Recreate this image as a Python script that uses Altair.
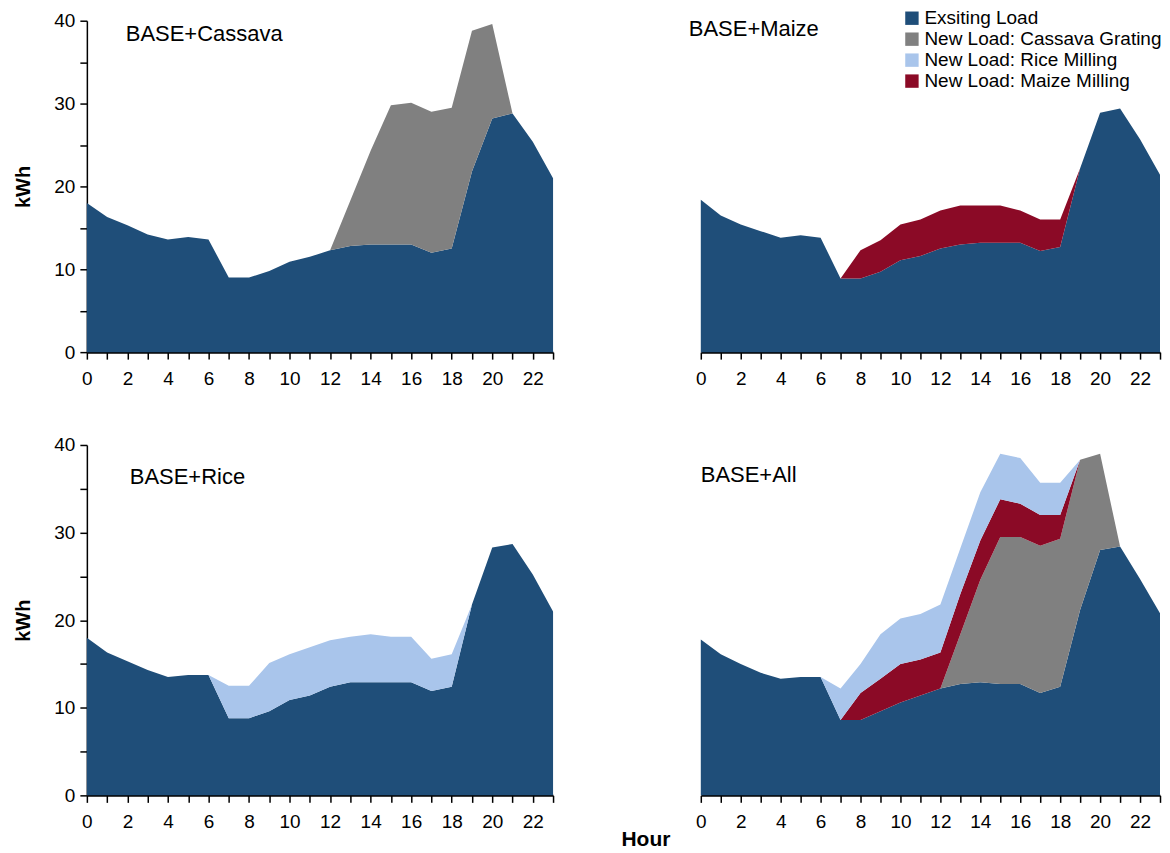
import altair as alt
import pandas as pd

FONT = "Liberation Sans"

hours = list(range(24))
series_names = ["Exsiting Load", "New Load: Cassava Grating",
                "New Load: Rice Milling", "New Load: Maize Milling"]
series_colors = ["#1F4E79", "#808080", "#A9C5EB", "#8B0A26"]
stack_rank = {"Exsiting Load": 0, "New Load: Cassava Grating": 1,
              "New Load: Maize Milling": 2, "New Load: Rice Milling": 3}

# BASE+Cassava
base_cas = [18.0, 16.3, 15.3, 14.2, 13.6, 13.9, 13.6, 9.0, 9.0, 9.8, 10.9, 11.5,
            12.3, 12.8, 13.0, 13.0, 13.0, 12.0, 12.5, 21.8, 28.2, 28.8, 25.4, 21.0]
cas_cas = [0, 0, 0, 0, 0, 0, 0, 0, 0, 0, 0, 0,
           0, 5.5, 11.3, 16.8, 17.1, 17.0, 17.0, 17.0, 11.4, 0, 0, 0]

# BASE+Maize
base_mai = [18.4, 16.5, 15.4, 14.6, 13.8, 14.1, 13.8, 8.9, 8.9, 9.7, 11.1, 11.6,
            12.5, 13.0, 13.2, 13.2, 13.2, 12.2, 12.7, 22.2, 28.9, 29.4, 25.7, 21.4]
mai_mai = [0, 0, 0, 0, 0, 0, 0, 0, 3.4, 3.8, 4.3, 4.4,
           4.6, 4.7, 4.5, 4.5, 3.9, 3.8, 3.3, 0, 0, 0, 0, 0]

# BASE+Rice
base_ric = [18.0, 16.3, 15.3, 14.3, 13.5, 13.75, 13.75, 8.8, 8.8, 9.6, 10.9, 11.4,
            12.4, 12.9, 12.9, 12.9, 12.9, 11.9, 12.4, 21.8, 28.3, 28.7, 25.2, 21.0]
ric_ric = [0, 0, 0, 0, 0, 0, 0, 3.7, 3.7, 5.5, 5.2, 5.5,
           5.3, 5.2, 5.5, 5.2, 5.2, 3.7, 3.7, 0, 0, 0, 0, 0]

# BASE+All
base_all = [17.8, 16.1, 15.0, 14.0, 13.3, 13.5, 13.5, 8.6, 8.6, 9.6, 10.6, 11.4,
            12.2, 12.7, 12.9, 12.7, 12.7, 11.7, 12.4, 21.2, 28.0, 28.4, 24.7, 20.8]
cas_all = [0, 0, 0, 0, 0, 0, 0, 0, 0, 0, 0, 0,
           0, 5.7, 11.7, 16.8, 16.8, 16.8, 16.9, 17.1, 11.0, 0, 0, 0]
mai_all = [0, 0, 0, 0, 0, 0, 0, 0, 3.1, 3.7, 4.4, 4.1,
           4.1, 4.6, 4.5, 4.3, 3.8, 3.5, 2.7, 0, 0, 0, 0, 0]
ric_all = [0, 0, 0, 0, 0, 0, 0, 3.6, 3.3, 5.1, 5.2, 5.2,
           5.5, 5.2, 5.5, 5.2, 5.2, 3.7, 3.7, 0, 0, 0, 0, 0]

y_ticks = [0, 5, 10, 15, 20, 25, 30, 35, 40]


def frame(parts):
    rows = []
    for name, vals in parts:
        for h, v in zip(hours, vals):
            rows.append({"hour": h, "series": name, "value": v,
                         "rank": stack_rank[name]})
    return pd.DataFrame(rows)


def panel(df, label, lx, ly, width, height, show_y, legend=False, hour_title=False):
    if legend:
        leg = alt.Legend(orient="none", legendX=202, legendY=-12, title=None,
                         symbolType="square", symbolSize=180, symbolStrokeWidth=0,
                         labelFont=FONT, labelFontSize=19, labelColor="black",
                         rowPadding=1, labelOffset=3, labelLimit=400)
    else:
        leg = None
    color = alt.Color("series:N",
                      scale=alt.Scale(domain=series_names, range=series_colors),
                      legend=leg)
    x = alt.X("hour:Q", scale=alt.Scale(domain=[0, 23], nice=False, zero=False),
              axis=alt.Axis(values=hours, title=None, labelAngle=0, grid=False,
                            labelExpr="datum.value % 2 === 0 ? datum.label : ''",
                            domainWidth=2, tickSize=7, tickWidth=1.5,
                            labelPadding=10, labelFlush=False))
    if show_y:
        yaxis = alt.Axis(values=y_ticks, title="kWh", grid=False,
                         labelExpr="datum.value % 10 === 0 ? datum.label : ''",
                         domainWidth=1.5, tickSize=7, tickWidth=1.5,
                         labelPadding=5, titleFont=FONT, titleFontSize=20,
                         titleFontWeight="bold", titlePadding=20, titleColor="black")
    else:
        yaxis = None
    y = alt.Y("value:Q", stack="zero",
              scale=alt.Scale(domain=[0, 40], nice=False), axis=yaxis)
    area = alt.Chart(df).mark_area(interpolate="linear").encode(
        x=x, y=y, color=color, order=alt.Order("rank:Q"))
    txt = alt.Chart(pd.DataFrame({"t": [label]})).mark_text(
        align="left", baseline="middle", font=FONT, fontSize=22, color="black"
    ).encode(x=alt.value(lx), y=alt.value(ly), text="t:N")
    layers = [area, txt]
    if hour_title:
        ht = alt.Chart(pd.DataFrame({"t": ["Hour"]})).mark_text(
            align="center", baseline="middle", font=FONT, fontSize=21,
            fontWeight="bold", color="black"
        ).encode(x=alt.value(-55), y=alt.value(396), text="t:N")
        layers.append(ht)
    return alt.layer(*layers).properties(width=width, height=height)


tl = panel(frame([("Exsiting Load", base_cas), ("New Load: Cassava Grating", cas_cas)]),
           "BASE+Cassava", 39, 13, 467, 332, True)
tr = panel(frame([("Exsiting Load", base_mai), ("New Load: Maize Milling", mai_mai)]),
           "BASE+Maize", -12, 8, 460, 332, False, legend=True)
bl = panel(frame([("Exsiting Load", base_ric), ("New Load: Rice Milling", ric_ric)]),
           "BASE+Rice", 43, 32, 467, 351, True)
br = panel(frame([("Exsiting Load", base_all), ("New Load: Cassava Grating", cas_all),
                  ("New Load: Maize Milling", mai_all), ("New Load: Rice Milling", ric_all)]),
           "BASE+All", 0, 30, 460, 351, False, hour_title=True)

chart = alt.concat(
    tl, tr, bl, br, columns=2, bounds="flush",
    spacing={"row": 93, "column": 148}
).resolve_scale(
    color="independent"
).properties(
    padding={"left": 5, "top": 0, "right": 0, "bottom": 0}
).configure_view(strokeWidth=0).configure_axis(
    labelFont=FONT, labelFontSize=19, labelColor="black",
    domainColor="black", tickColor="black", grid=False
)

chart.save("out.html", embed_options={"renderer": "svg", "actions": False})
